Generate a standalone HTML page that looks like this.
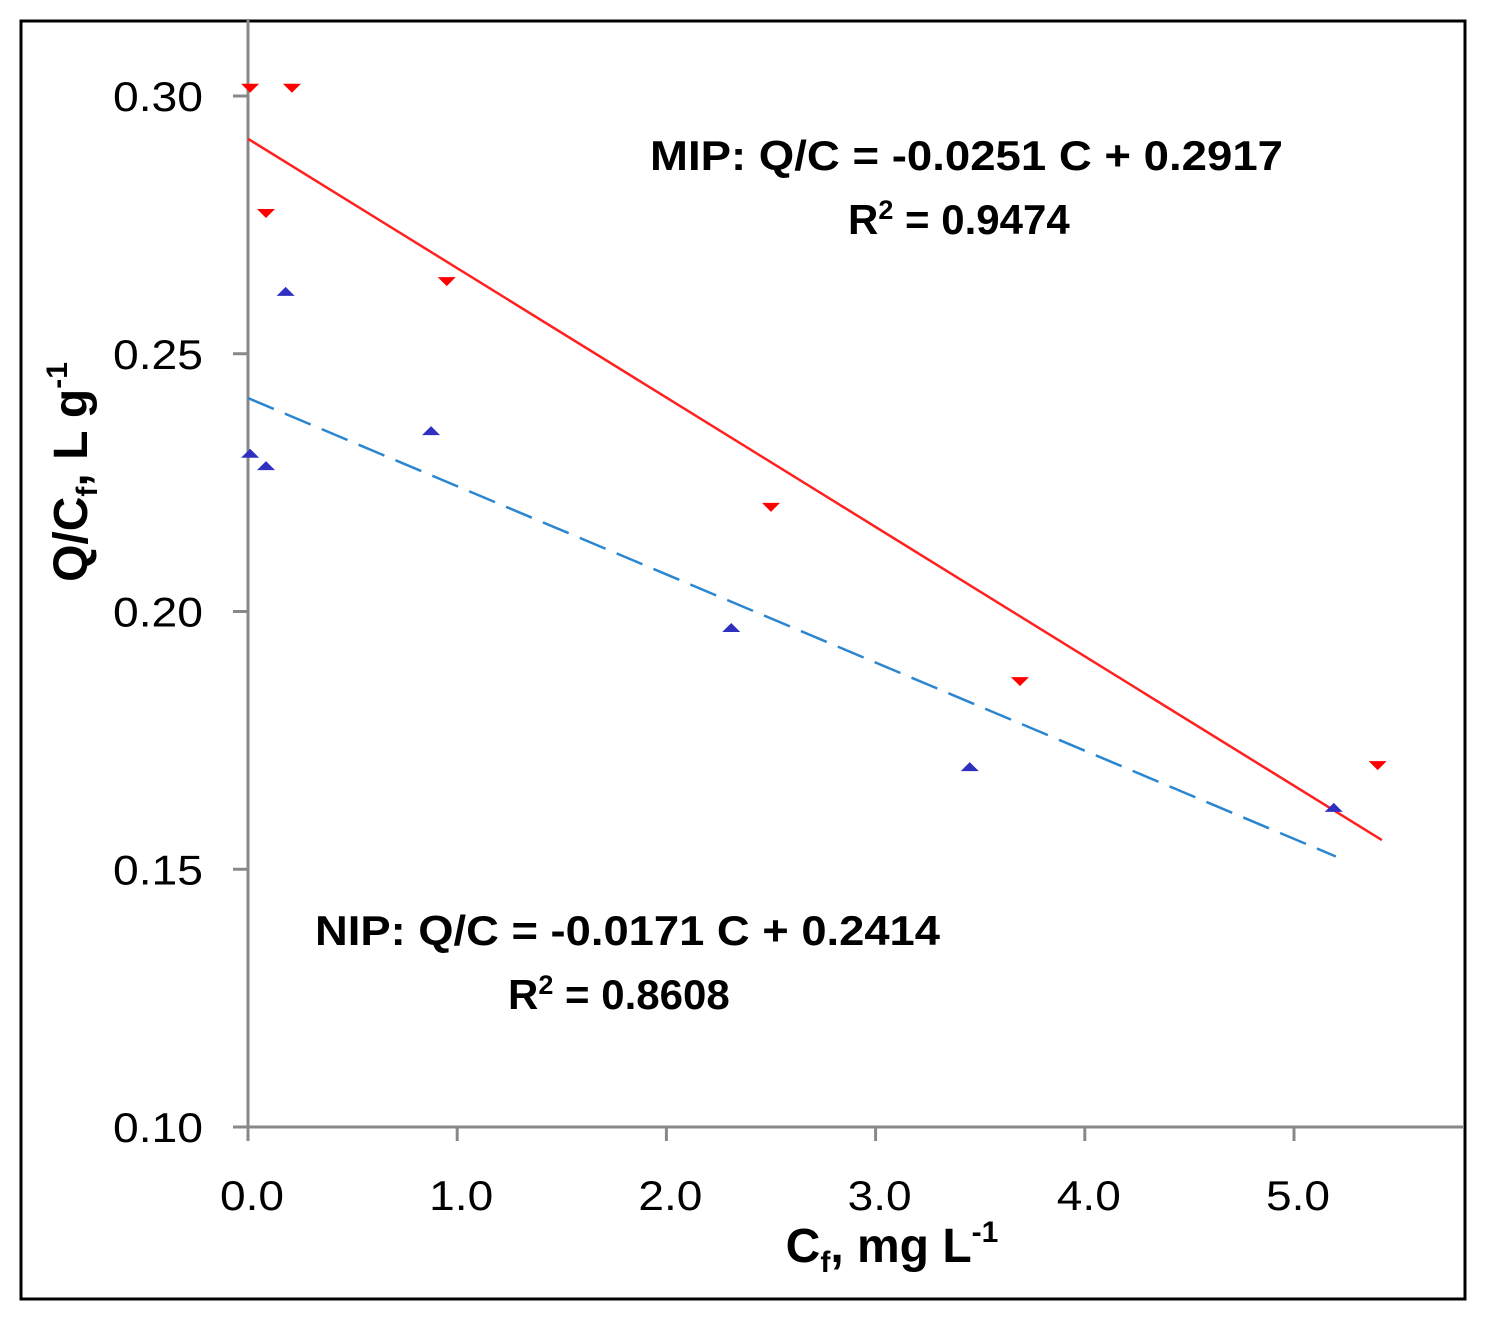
<!DOCTYPE html>
<html><head><meta charset="utf-8"><style>
body{margin:0;background:#fff}
svg{display:block}
text{font-family:"Liberation Sans",sans-serif}
</style></head><body>
<svg width="1487" height="1321" viewBox="0 0 1487 1321">
<rect x="21" y="21" width="1444" height="1278" fill="#fff" stroke="#000" stroke-width="3"/>
<g id="axes"></g>
<g id="marks"></g>
<text x="650" y="170" font-size="42" font-weight="bold" textLength="633" lengthAdjust="spacingAndGlyphs">MIP: Q/C = -0.0251 C + 0.2917</text>
<text x="848" y="234" font-size="42" font-weight="bold">R<tspan font-size="27" dy="-15">2</tspan><tspan dy="15"> = 0.9474</tspan></text>
<text x="315" y="945" font-size="42" font-weight="bold" textLength="625" lengthAdjust="spacingAndGlyphs">NIP: Q/C = -0.0171 C + 0.2414</text>
<text x="508" y="1009" font-size="42" font-weight="bold">R<tspan font-size="27" dy="-15">2</tspan><tspan dy="15"> = 0.8608</tspan></text>
<text x="892" y="1262" font-size="48" font-weight="bold" text-anchor="middle">C<tspan font-size="30" dy="10">f</tspan><tspan dy="-10">, mg L</tspan><tspan font-size="30" dy="-20">-1</tspan></text>
<text transform="translate(87,472) rotate(-90)" font-size="48" font-weight="bold" text-anchor="middle">Q/C<tspan font-size="30" dy="10">f</tspan><tspan dy="-10">,  L g</tspan><tspan font-size="30" dy="-20">-1</tspan></text>
</svg>
<script>
const xTicks=[0,1,2,3,4,5];
const xTickLabels=["0.0","1.0","2.0","3.0","4.0","5.0"];
const yTicks=[0.10,0.15,0.20,0.25,0.30];
const yTickLabels=["0.10","0.15","0.20","0.25","0.30"];
const mipX=[0.01,0.21,0.086,0.95,2.50,3.69,5.40];
const mipY=[0.3016,0.3016,0.2773,0.2641,0.2203,0.1865,0.1702];
const nipX=[0.01,0.086,0.18,0.875,2.31,3.45,5.19];
const nipY=[0.2306,0.2282,0.262,0.235,0.1968,0.1698,0.1619];
const mipSlope=-0.0251, mipIntercept=0.2917, mipXEnd=5.42;
const nipSlope=-0.0171, nipIntercept=0.2414, nipXEnd=5.2;
const NS="http://www.w3.org/2000/svg";
const sx=v=>248+v*209.2;
const sy=v=>1127-(v-0.10)*5155;
const axes=document.getElementById('axes'), marks=document.getElementById('marks');
function mk(tag,attrs,parent){const e=document.createElementNS(NS,tag);for(const k in attrs)e.setAttribute(k,attrs[k]);parent.appendChild(e);return e;}
let e=mk('line',{x1:248,y1:20,x2:248,y2:1127,stroke:'#888','stroke-width':3},axes);


e=mk('line',{x1:246,y1:1127,x2:1464,y2:1127,stroke:'#888','stroke-width':3},axes);


yTicks.forEach((v,i)=>{
 const t=mk('line',{x1:233,x2:248,y1:sy(v),y2:sy(v),stroke:'#888','stroke-width':3},axes);
 
 
 const l=mk('text',{x:203,y:sy(v)+15,'font-size':42,'text-anchor':'end',fill:'#000',textLength:90,lengthAdjust:'spacingAndGlyphs'},axes);
 l.textContent=yTickLabels[i];
 
 
});
xTicks.forEach((v,i)=>{
 const t=mk('line',{x1:sx(v),x2:sx(v),y1:1127,y2:1141,stroke:'#888','stroke-width':3},axes);
 
 
 const l=mk('text',{x:sx(v)-28,y:1210,'font-size':42,fill:'#000',textLength:64,lengthAdjust:'spacingAndGlyphs'},axes);
 l.textContent=xTickLabels[i];
 
 
});
let ln=mk('line',{x1:sx(0),y1:sy(mipIntercept),x2:sx(mipXEnd),y2:sy(mipIntercept+mipSlope*mipXEnd),stroke:'#ff2020','stroke-width':2.5},marks);


ln=mk('line',{x1:sx(0),y1:sy(nipIntercept),x2:sx(nipXEnd),y2:sy(nipIntercept+nipSlope*nipXEnd),stroke:'#2a86d0','stroke-width':2.5,'stroke-dasharray':'28,12'},marks);


mipX.forEach((x,i)=>{
 const cx=sx(x),cy=sy(mipY[i]);
 const p=mk('polygon',{points:`${cx-9},${cy-4} ${cx+9},${cy-4} ${cx},${cy+5}`,fill:'#ff0000'},marks);
 
 
});
nipX.forEach((x,i)=>{
 const cx=sx(x),cy=sy(nipY[i]);
 const p=mk('polygon',{points:`${cx-9},${cy+4} ${cx+9},${cy+4} ${cx},${cy-5}`,fill:'#3030c0'},marks);
 
 
});
</script>
</body></html>
